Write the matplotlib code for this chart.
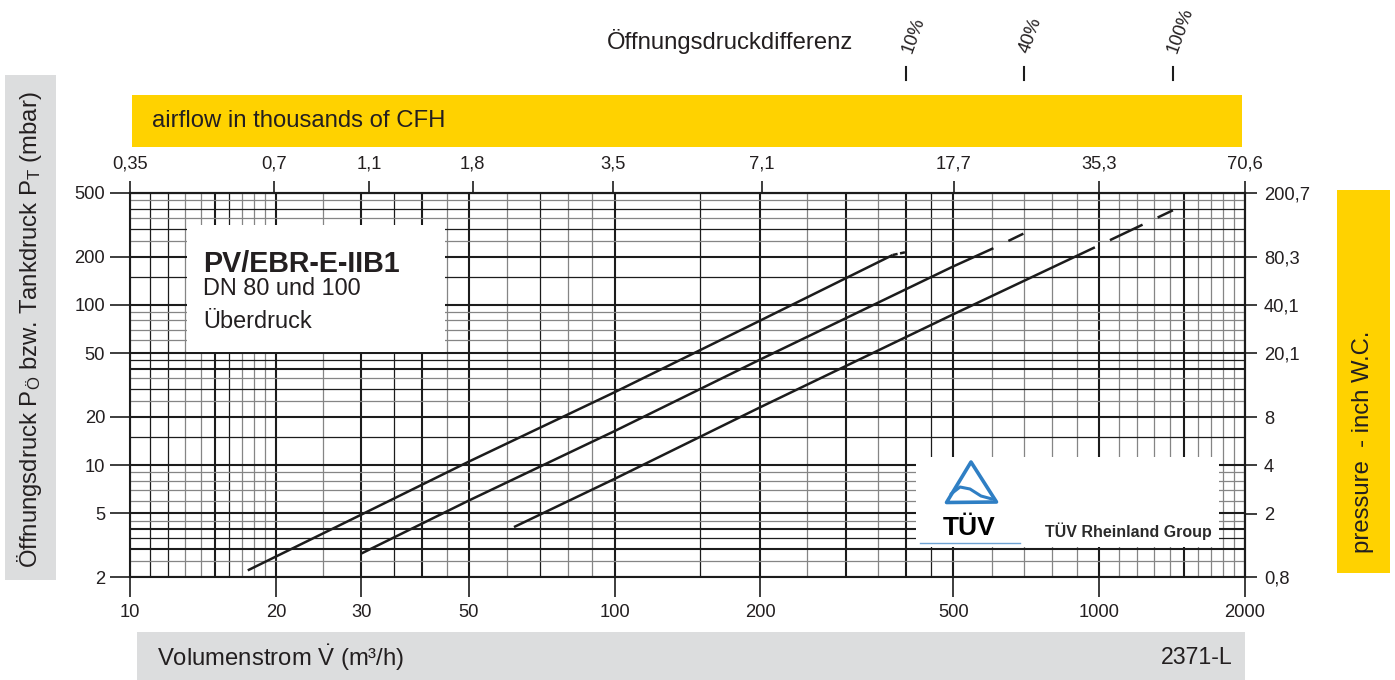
import numpy as np
import matplotlib
matplotlib.use("Agg")
import matplotlib.pyplot as plt
from matplotlib import transforms
from matplotlib.patches import Rectangle, Polygon
from matplotlib.lines import Line2D
from matplotlib.ticker import NullLocator

plt.rcParams['font.family'] = ['Liberation Sans', 'DejaVu Sans']
plt.rcParams['mathtext.fontset'] = 'custom'
plt.rcParams['mathtext.rm'] = 'Liberation Sans'
plt.rcParams['mathtext.it'] = 'Liberation Sans:italic'
plt.rcParams['mathtext.bf'] = 'Liberation Sans:bold'
plt.rcParams['lines.scale_dashes'] = False

# ---- characteristic curves: flow (m³/h) vs. opening pressure (mbar) ----
flow_10 = [17.5, 30, 50, 100, 200, 375, 400]
pressure_10 = [2.2, 4.9, 10.5, 28.5, 80, 205, 214]
flow_40 = [30, 50, 100, 200, 500, 605, 700]
pressure_40 = [2.8, 6.0, 16.3, 45.7, 174, 226, 280]
flow_100 = [62, 100, 200, 500, 980, 1420]
pressure_100 = [4.1, 8.2, 23.0, 87.4, 229, 390]
dash_from = [375, 605, 980]          # curves continue dashed beyond these flows
diff_labels = ["10%", "40%", "100%"]  # opening pressure difference per curve

# ---- axis ticks ----
flow_ticks = [10, 20, 30, 50, 100, 200, 500, 1000, 2000]
pressure_ticks = [2, 5, 10, 20, 50, 100, 200, 500]
cfh_ticks = [0.35, 0.7, 1.1, 1.8, 3.5, 7.1, 17.7, 35.3, 70.6]
inwc_ticks = [0.8, 2, 4, 8, 20.1, 40.1, 80.3, 200.7]

# ---- chart-paper grid (three line weights) ----
vgrid_major = [10, 15, 20, 30, 40, 50, 100, 200, 300, 400, 500, 1000, 1500, 2000]
vgrid_medium = [11, 12, 16, 35, 70, 150, 450]
vgrid_minor = [13, 14, 17, 18, 19, 25, 45, 60, 80, 90, 250, 350,
               600, 700, 800, 900, 1100, 1200, 1300, 1400, 1600, 1700, 1800, 1900]
hgrid_major = [2, 3, 4, 5, 10, 20, 40, 50, 100, 200, 500]
hgrid_medium = [3.5, 15, 30, 45, 150, 300, 400]
hgrid_minor = [2.5, 4.5, 6, 7, 8, 9, 25, 35, 60, 70, 80, 90, 250, 350, 450]

M3H_TO_KCFH = 0.0353147
MBAR_TO_INWC = 0.401463
FLOW_LIM = (10, 2000)
PRESSURE_LIM = (2, 500)

INK = '#1c1c1c'
GRID_GRAY = '#858585'
TXT = '#231f20'
YELLOW = '#ffd200'
BAR_GRAY = '#dcddde'
TUV_BLUE = '#2f7fc4'
TICK_FS = 13.2
BAR_FS = 17.2

W, H = 1395, 680
fig = plt.figure(figsize=(W / 100, H / 100), dpi=100)


def fx(px):
    return px / W


def fy(py):
    return 1 - py / H


ax = fig.add_axes([fx(130), fy(577), fx(1245) - fx(130), fy(193) - fy(577)])
ax.set_xscale('log')
ax.set_yscale('log')
ax.set_xlim(*FLOW_LIM)
ax.set_ylim(*PRESSURE_LIM)

for vals, col, lw in ((vgrid_minor, GRID_GRAY, 0.9), (vgrid_medium, INK, 0.9),
                      (vgrid_major, INK, 1.5)):
    for v in vals:
        ax.axvline(v, color=col, lw=lw, zorder=1)
for vals, col, lw in ((hgrid_minor, GRID_GRAY, 0.9), (hgrid_medium, INK, 0.9),
                      (hgrid_major, INK, 1.5)):
    for v in vals:
        ax.axhline(v, color=col, lw=lw, zorder=1)

# white label panels over the grid
ax.add_patch(Rectangle((fx(187), fy(352)), fx(445) - fx(187), fy(225) - fy(352),
                       transform=fig.transFigure, facecolor='white', edgecolor='none',
                       zorder=2, clip_on=False))
ax.add_patch(Rectangle((fx(916), fy(547)), fx(1219) - fx(916), fy(457) - fy(547),
                       transform=fig.transFigure, facecolor='white', edgecolor='none',
                       zorder=2, clip_on=False))

# curves: solid part then dashed extension
curves = [(flow_10, pressure_10, dash_from[0]),
          (flow_40, pressure_40, dash_from[1]),
          (flow_100, pressure_100, dash_from[2])]
tail_styles = [(0, (3.6, 1.8)), (12, (12, 12)), (26, (26, 12))]
for (fl, pr, brk), ls in zip(curves, tail_styles):
    fl = np.asarray(fl, dtype=float)
    pr = np.asarray(pr, dtype=float)
    head = fl <= brk
    tail = fl >= brk
    ax.plot(fl[head], pr[head], color=INK, lw=1.8, solid_capstyle='butt', zorder=3)
    ax.plot(fl[tail], pr[tail], color=INK, lw=1.8, linestyle=ls,
            dash_capstyle='butt', zorder=3)

# primary axes
ax.set_xticks(flow_ticks, labels=[f"{v:g}" for v in flow_ticks])
ax.set_yticks(pressure_ticks, labels=[f"{v:g}" for v in pressure_ticks])
ax.xaxis.set_minor_locator(NullLocator())
ax.yaxis.set_minor_locator(NullLocator())
ax.tick_params(axis='x', direction='out', length=14.4, width=1.2, color=INK,
               labelsize=TICK_FS, labelcolor=TXT, pad=5)
ax.tick_params(axis='y', direction='out', length=14.4, width=1.2, color=INK,
               labelsize=TICK_FS, labelcolor=TXT, pad=3.6)
for sp in ax.spines.values():
    sp.set_linewidth(1.5)
    sp.set_color(INK)
    sp.set_zorder(2.5)


def comma(v):
    return f"{v:g}".replace('.', ',')


# secondary axes: thousands of CFH and inch W.C.; the printed values are
# rounded, so the end ticks are held on the plot edges
secx = ax.secondary_xaxis('top', functions=(lambda q: q * M3H_TO_KCFH,
                                             lambda c: c / M3H_TO_KCFH))
cfh_lo, cfh_hi = FLOW_LIM[0] * M3H_TO_KCFH, FLOW_LIM[1] * M3H_TO_KCFH
secx.set_xticks(np.clip(cfh_ticks, cfh_lo, cfh_hi), labels=[comma(v) for v in cfh_ticks])
secx.xaxis.set_minor_locator(NullLocator())
secx.tick_params(direction='out', length=8.6, width=1.2, color=INK,
                 labelsize=TICK_FS, labelcolor=TXT, pad=6)
secx.spines['top'].set_linewidth(1.5)

secy = ax.secondary_yaxis('right', functions=(lambda p: p * MBAR_TO_INWC,
                                               lambda w: w / MBAR_TO_INWC))
in_lo, in_hi = PRESSURE_LIM[0] * MBAR_TO_INWC, PRESSURE_LIM[1] * MBAR_TO_INWC
secy.set_yticks(np.clip(inwc_ticks, in_lo, in_hi), labels=[comma(v) for v in inwc_ticks])
secy.yaxis.set_minor_locator(NullLocator())
secy.tick_params(direction='out', length=8.6, width=1.2, color=INK,
                 labelsize=TICK_FS, labelcolor=TXT, pad=5)
secy.spines['right'].set_linewidth(1.5)

# opening pressure difference marks at curve ends
blend = transforms.blended_transform_factory(ax.transData, fig.transFigure)
label_tr = transforms.offset_copy(blend, fig=fig, x=7, y=0, units='dots')
for (fl, pr, brk), lab in zip(curves, diff_labels):
    xend = fl[-1]
    fig.add_artist(Line2D([xend, xend], [fy(80), fy(67)], transform=blend,
                          color=INK, lw=1.5))
    fig.text(xend, fy(55), lab, transform=label_tr, rotation=70,
             ha='center', va='bottom', fontsize=13.2, color=TXT)

fig.text(fx(607), fy(42), "Öffnungsdruckdifferenz", fontsize=BAR_FS,
         ha='left', va='center', color=TXT)

# coloured header / side / footer bars
fig.add_artist(Rectangle((fx(132), fy(147)), fx(1242) - fx(132), fy(95) - fy(147),
                         transform=fig.transFigure, facecolor=YELLOW, edgecolor='none'))
fig.text(fx(152), fy(121), "airflow in thousands of CFH", fontsize=BAR_FS,
         ha='left', va='center', color=TXT)

fig.add_artist(Rectangle((fx(5), fy(580)), fx(56) - fx(5), fy(75) - fy(580),
                         transform=fig.transFigure, facecolor=BAR_GRAY, edgecolor='none'))
fig.text(fx(30), fy(330),
         r"Öffnungsdruck P$_\mathrm{Ö}$ bzw. Tankdruck P$_\mathrm{T}$ (mbar)",
         rotation=90, fontsize=BAR_FS, ha='center', va='center', color=TXT)

fig.add_artist(Rectangle((fx(1337), fy(573)), fx(1390) - fx(1337), fy(190) - fy(573),
                         transform=fig.transFigure, facecolor=YELLOW, edgecolor='none'))
fig.text(fx(1363), fy(442), "pressure  - inch W.C.", rotation=90, fontsize=BAR_FS,
         ha='center', va='center', color=TXT)

fig.add_artist(Rectangle((fx(137), 0), fx(1245) - fx(137), fy(632),
                         transform=fig.transFigure, facecolor=BAR_GRAY, edgecolor='none'))
fig.text(fx(157), fy(658), r"Volumenstrom $\dot{\mathrm{V}}$ (m³/h)", fontsize=BAR_FS,
         ha='left', va='center', color=TXT)
fig.text(fx(1233), fy(658), "2371-L", fontsize=16.7, ha='right', va='center', color=TXT)

# product label panel
fig.text(fx(203), fy(271.5), "PV/EBR-E-IIB1", fontsize=20.6, fontweight='bold',
         ha='left', va='baseline', color=TXT, zorder=4)
fig.text(fx(203), fy(295), "DN 80 und 100", fontsize=16.9,
         ha='left', va='baseline', color=TXT, zorder=4)
fig.text(fx(203), fy(328), "Überdruck", fontsize=16.9,
         ha='left', va='baseline', color=TXT, zorder=4)

# certification mark
tri = Polygon([(fx(971), fy(462)), (fx(946.5), fy(502.5)), (fx(996.5), fy(502))],
              closed=True, transform=fig.transFigure, facecolor='none',
              edgecolor=TUV_BLUE, lw=2.6, joinstyle='round')
fig.add_artist(tri)
fig.add_artist(Line2D([fx(951), fx(960), fx(970), fx(981), fx(992)],
                      [fy(494), fy(487), fy(489), fy(496), fy(499)],
                      transform=fig.transFigure, color=TUV_BLUE, lw=2.2,
                      solid_capstyle='round'))
fig.text(fx(969), fy(535), "TÜV", fontsize=19, fontweight='bold', ha='center',
         va='baseline', color='black')
fig.add_artist(Line2D([fx(920), fx(1020)], [fy(543), fy(543)],
                      transform=fig.transFigure, color='#6fa3d3', lw=1.0))
fig.text(fx(1045), fy(537), "TÜV Rheinland Group", fontsize=11.5, fontweight='bold',
         ha='left', va='baseline', color='#2a2a2a')

fig.savefig("out.png", dpi=100)
